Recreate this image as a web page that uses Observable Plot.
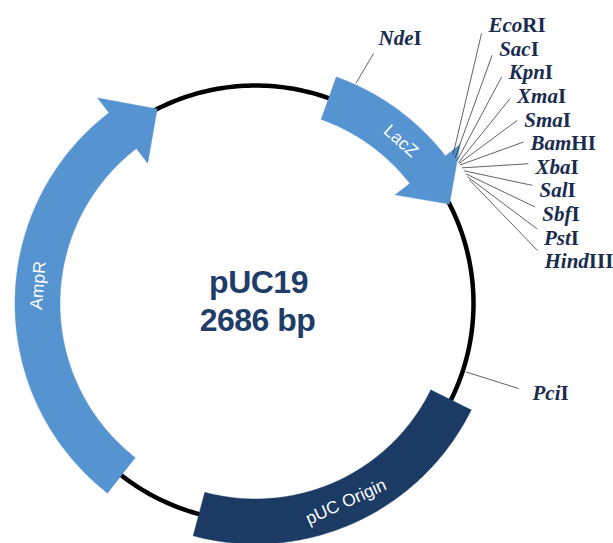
<!DOCTYPE html>
<html>
<head>
<meta charset="utf-8">
<script src="https://cdn.jsdelivr.net/npm/d3@7"></script>
<script src="https://cdn.jsdelivr.net/npm/@observablehq/plot@0.6"></script>
<style>
  html, body { margin: 0; padding: 0; background: #ffffff; }
  #chart { width: 613px; height: 543px; }
</style>
</head>
<body>
<div id="chart"></div>
<script>
// ---------------- data ----------------
const plasmidName = "pUC19";
const plasmidLength = 2686;
const plasmidLabel = "2686 bp";

const featureNames   = ["LacZ", "AmpR", "pUC Origin"];
const featureStart   = [146, 1626, 867];
const featureEnd     = [469, 2486, 1455];
const featureIsArrow = [true, true, false];
const featureLabelAt = [312, 2050, 1160];

const mcsNames    = ["EcoRI", "SacI", "KpnI", "XmaI", "SmaI", "BamHI", "XbaI", "SalI", "SbfI", "PstI", "HindIII"];
const mcsItalic   = ["Eco", "Sac", "Kpn", "Xma", "Sma", "Bam", "Xba", "Sal", "Sbf", "Pst", "Hind"];
const mcsPositions = [396, 402, 408, 412, 414, 417, 423, 429, 435, 441, 447];

const otherSiteNames     = ["NdeI", "PciI"];
const otherSiteItalic    = ["Nde", "Pci"];
const otherSitePositions = [183, 806];

// ---------------- layout & style ----------------
const W = 613, H = 543, CX = 255, CY = 303;
const R = 218;
const bodyHalf = 22.5, headHalf = 41, headBp = 80;
const lightBlue = "#5593d1", navy = "#1b3a64", textNavy = "#1a2c4e";

const TAU = Math.PI * 2;
const polar = (bp, r) => {
  const t = bp / plasmidLength * TAU;
  return {x: r * Math.sin(t), y: r * Math.cos(t)};
};
const arcPts = (a, b, r, n = 80) => d3.range(n + 1).map(k => polar(a + (b - a) * k / n, r));
const px2data = (px, py) => ({x: px - CX, y: CY - py});

function featurePolygon(i) {
  const a = featureStart[i], b = featureEnd[i];
  if (!featureIsArrow[i]) {
    return [...arcPts(a, b, R + bodyHalf), ...arcPts(b, a, R - bodyHalf)];
  }
  const h = b - headBp;
  return [
    ...arcPts(a, h, R + bodyHalf),
    polar(h, R + headHalf),
    polar(b, R),
    polar(h, R - headHalf),
    ...arcPts(h, a, R - bodyHalf)
  ];
}
const featureColor = i => featureIsArrow[i] ? lightBlue : navy;

const backbone = arcPts(0, plasmidLength, R, 360);

// feature labels
const featureLabels = featureNames.map((name, i) => {
  const bp = featureLabelAt[i];
  const p = polar(bp, R);
  let deg = bp / plasmidLength * 360;
  if (deg > 90 && deg < 270) deg -= 180;
  return {name, x: p.x, y: p.y, rotate: deg};
});

// MCS label layout: evenly spaced column fanning out to the right
const mcsLabels = mcsNames.map((name, i) => {
  const lx = 488 + 56 * (1 - Math.pow(1 - i / 10, 2));
  const ly = 25 + i * 23.6;
  const lab = px2data(lx, ly);
  const anchor = px2data(lx - 7, ly + 8 - i * 1.9);
  const site = polar(mcsPositions[i], 247);
  return {name, x: lab.x, y: lab.y, ax: anchor.x, ay: anchor.y, sx: site.x, sy: site.y};
});

const otherLayout = {NdeI: {lx: 378, ly: 38, ax: 373, ay: 53, r: 242}, PciI: {lx: 532, ly: 393, ax: 518, ay: 388, r: 221}};
const otherLabels = otherSiteNames.map((name, i) => {
  const L = otherLayout[name];
  const lab = px2data(L.lx, L.ly), anc = px2data(L.ax, L.ay);
  const site = polar(otherSitePositions[i], L.r);
  return {name, x: lab.x, y: lab.y, ax: anc.x, ay: anc.y, sx: site.x, sy: site.y};
});
const allSiteLabels = [...mcsLabels, ...otherLabels];

const centerText = [
  {t: plasmidName, x: 3, y: CY - 282},
  {t: plasmidLabel, x: 2, y: CY - 320}
];

// ---------------- plot ----------------
const marks = [
  Plot.line(backbone, {x: "x", y: "y", stroke: "#000", strokeWidth: 4.5}),
  ...featureNames.map((n, i) =>
    Plot.line(featurePolygon(i), {x: "x", y: "y", fill: featureColor(i), stroke: featureColor(i), strokeWidth: 0.5})
  ),
  Plot.link(allSiteLabels, {x1: "sx", y1: "sy", x2: "ax", y2: "ay", stroke: "#3a3a3a", strokeWidth: 0.8}),
  Plot.text(featureLabels, {x: "x", y: "y", text: "name", rotate: "rotate", fill: "#ffffff",
    fontFamily: "Liberation Sans, Arial, sans-serif", fontSize: 17.5}),
  Plot.text(allSiteLabels, {x: "x", y: "y", text: "name", textAnchor: "start", fill: textNavy,
    fontFamily: "Liberation Serif, Times New Roman, serif", fontSize: 21, fontWeight: "bold"}),
  Plot.text(centerText, {x: "x", y: "y", text: "t", fill: "#1f3d69",
    fontFamily: "Liberation Sans, Arial, sans-serif", fontSize: 32, fontWeight: "bold"})
];

const svg = Plot.plot({
  width: W, height: H, margin: 0,
  x: {domain: [-CX, W - CX], axis: null},
  y: {domain: [CY - H, CY], axis: null},
  style: {background: "#ffffff"},
  marks
});

// italic prefix / roman suffix for enzyme names
const italicMap = {};
mcsNames.forEach((n, i) => italicMap[n] = mcsItalic[i]);
otherSiteNames.forEach((n, i) => italicMap[n] = otherSiteItalic[i]);
d3.select(svg).selectAll("text").each(function() {
  const t = this.textContent;
  if (italicMap[t] !== undefined) {
    const pre = italicMap[t], suf = t.slice(pre.length);
    const sel = d3.select(this);
    sel.text(null);
    sel.append("tspan").attr("font-style", "italic").text(pre);
    sel.append("tspan").attr("font-style", "normal").text(suf);
  }
});
d3.select(svg).selectAll("text").filter(function() { return this.textContent === plasmidName || this.textContent === plasmidLabel; })
  .attr("letter-spacing", "-0.5");

document.getElementById("chart").appendChild(svg);
</script>
</body>
</html>
